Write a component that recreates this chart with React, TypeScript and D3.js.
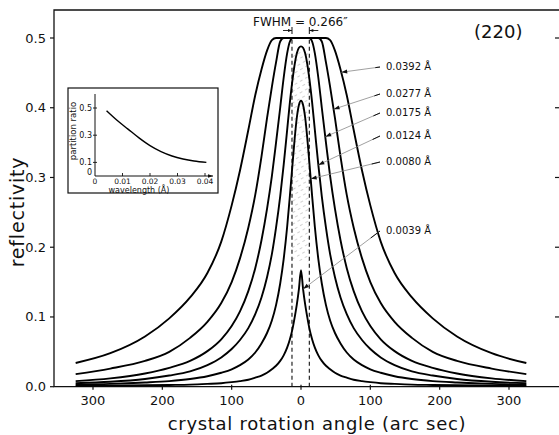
import * as d3 from "d3";

// rotation angle grid (arc sec)
const angles = [-325, -275, -225, -190, -160, -135, -115, -100, -88, -76, -66, -57, -49, -42, -36, -30, -25, -20, -16, -12, -9, -6, -3, 0, 3, 6, 9, 12, 16, 20, 25, 30, 36, 42, 49, 57, 66, 76, 88, 100, 115, 135, 160, 190, 225, 275, 325];

// reflectivity, left to right
const r0392 = [0.034, 0.048, 0.072, 0.098, 0.128, 0.163, 0.208, 0.26, 0.31, 0.368, 0.418, 0.455, 0.482, 0.497, 0.5, 0.5, 0.5, 0.5, 0.5, 0.5, 0.5, 0.5, 0.5, 0.5, 0.5, 0.5, 0.5, 0.5, 0.5, 0.5, 0.5, 0.5, 0.5, 0.497, 0.482, 0.455, 0.418, 0.368, 0.31, 0.26, 0.208, 0.163, 0.128, 0.098, 0.072, 0.048, 0.034];
const r0277 = [0.018, 0.026, 0.037, 0.05, 0.07, 0.093, 0.12, 0.15, 0.184, 0.228, 0.275, 0.33, 0.385, 0.43, 0.465, 0.495, 0.5, 0.5, 0.5, 0.5, 0.5, 0.5, 0.5, 0.5, 0.5, 0.5, 0.5, 0.5, 0.5, 0.5, 0.5, 0.495, 0.465, 0.43, 0.385, 0.33, 0.275, 0.228, 0.184, 0.15, 0.12, 0.093, 0.07, 0.05, 0.037, 0.026, 0.018];
const r0175 = [0.008, 0.012, 0.019, 0.027, 0.037, 0.051, 0.068, 0.087, 0.108, 0.137, 0.17, 0.21, 0.255, 0.302, 0.35, 0.4, 0.443, 0.478, 0.495, 0.5, 0.5, 0.5, 0.5, 0.5, 0.5, 0.5, 0.5, 0.5, 0.495, 0.478, 0.443, 0.4, 0.35, 0.302, 0.255, 0.21, 0.17, 0.137, 0.108, 0.087, 0.068, 0.051, 0.037, 0.027, 0.019, 0.012, 0.008];
const r0124 = [0.005, 0.007, 0.011, 0.016, 0.022, 0.031, 0.042, 0.054, 0.067, 0.084, 0.104, 0.128, 0.157, 0.19, 0.228, 0.273, 0.318, 0.368, 0.408, 0.442, 0.463, 0.478, 0.486, 0.488, 0.486, 0.478, 0.463, 0.442, 0.408, 0.368, 0.318, 0.273, 0.228, 0.19, 0.157, 0.128, 0.104, 0.084, 0.067, 0.054, 0.042, 0.031, 0.022, 0.016, 0.011, 0.007, 0.005];
const r0080 = [0.003, 0.004, 0.006, 0.008, 0.011, 0.015, 0.02, 0.025, 0.031, 0.039, 0.049, 0.062, 0.077, 0.095, 0.117, 0.148, 0.183, 0.229, 0.274, 0.322, 0.357, 0.386, 0.404, 0.41, 0.404, 0.386, 0.357, 0.322, 0.274, 0.229, 0.183, 0.148, 0.117, 0.095, 0.077, 0.062, 0.049, 0.039, 0.031, 0.025, 0.02, 0.015, 0.011, 0.008, 0.006, 0.004, 0.003];
const r0039 = [0.001, 0.0015, 0.002, 0.0025, 0.003, 0.004, 0.005, 0.0065, 0.008, 0.01, 0.013, 0.016, 0.02, 0.025, 0.03, 0.037, 0.045, 0.056, 0.068, 0.084, 0.1, 0.118, 0.14, 0.167, 0.14, 0.118, 0.1, 0.084, 0.068, 0.056, 0.045, 0.037, 0.03, 0.025, 0.02, 0.016, 0.013, 0.01, 0.008, 0.0065, 0.005, 0.004, 0.003, 0.0025, 0.002, 0.0015, 0.001];

const wavelengths = ["0.0392", "0.0277", "0.0175", "0.0124", "0.0080", "0.0039"];
const curves = [r0392, r0277, r0175, r0124, r0080, r0039];

// inset: partition ratio vs wavelength
const insetLambda = [0.0042, 0.008, 0.012, 0.016, 0.02, 0.024, 0.028, 0.032, 0.036, 0.0405];
const insetRatio = [0.48, 0.41, 0.345, 0.28, 0.223, 0.179, 0.147, 0.125, 0.11, 0.1];

const xTicks = [-300, -200, -100, 0, 100, 200, 300];
const yTicks = [0, 0.1, 0.2, 0.3, 0.4, 0.5];
const insetXTicks = [0, 0.01, 0.02, 0.03, 0.04];
const insetYTicks = [0.1, 0.3, 0.5];
const fwhmEdges = [-13, 12];

const FONT = "DejaVu Sans, sans-serif";

function valueAt(vals: number[], a: number) {
  const i = d3.bisectLeft(angles, a);
  if (i <= 0) return vals[0];
  const t = (a - angles[i - 1]) / (angles[i] - angles[i - 1]);
  return vals[i - 1] + t * (vals[i] - vals[i - 1]);
}

function arrowHead(x1: number, y1: number, x2: number, y2: number, len = 6, half = 2) {
  const dx = x2 - x1, dy = y2 - y1;
  const d = Math.hypot(dx, dy);
  const ux = dx / d, uy = dy / d;
  const bx = x2 - ux * len, by = y2 - uy * len;
  return `M${x2},${y2}L${bx - uy * half},${by + ux * half}L${bx + uy * half},${by - ux * half}Z`;
}

export default function App() {
  const x = d3.scaleLinear().domain([-300, 300]).range([93, 509]);
  const y = d3.scaleLinear().domain([0, 0.5]).range([386.7, 38]);

  const line = d3
    .line<number>()
    .x((_, i) => x(angles[i]))
    .y((d) => y(d))
    .curve(d3.curveMonotoneX);

  // label placement (pixel row of each label, arrow target angle)
  const labelX = 386;
  const labelY = [66, 93, 112, 135, 161, 230];
  const targetAngle = [58, 47, 35, 25, 14, 3];

  const ix = d3.scaleLinear().domain([0, 0.04]).range([95, 205]);
  const iy = d3.scaleLinear().domain([0, 0.5]).range([176, 108]);
  const insetLine = d3
    .line<number>()
    .x((_, i) => ix(insetLambda[i]))
    .y((d) => iy(d))
    .curve(d3.curveMonotoneX);

  const x0 = 54, xr = 559, yb = y(0), yt = 10;

  return (
    <>
      <style>{`body{margin:0;background:#fff}`}</style>
      <svg width={559} height={435} style={{ display: "block", background: "#fff" }}>
        <defs>
          <pattern id="hatch" width="5" height="6" patternUnits="userSpaceOnUse" patternTransform="rotate(60)">
            <line x1="0" y1="0" x2="0" y2="3" stroke="#666" strokeWidth="0.8" />
          </pattern>
        </defs>

        {/* frame */}
        <path d={`M${xr},${yt}H${x0}V${yb}H${xr}`} fill="none" stroke="#111" strokeWidth={1.3} />

        {/* hatched FWHM band */}
        <rect x={x(fwhmEdges[0])} y={y(0.48)} width={x(fwhmEdges[1]) - x(fwhmEdges[0])} height={y(0.18) - y(0.48)} fill="url(#hatch)" opacity={0.75} />

        {/* y ticks */}
        {yTicks.map((t) => (
          <g key={t}>
            <line x1={x0 - 4} x2={x0} y1={y(t)} y2={y(t)} stroke="#111" strokeWidth={1.2} />
            {t > 0 && <line x1={xr - 4} x2={xr} y1={y(t)} y2={y(t)} stroke="#111" strokeWidth={1.2} />}
            <text x={46} y={y(t) + 4.5} textAnchor="end" fontFamily={FONT} fontSize={13} fill="#111">
              {t.toFixed(1)}
            </text>
          </g>
        ))}

        {/* x ticks */}
        {xTicks.map((t) => (
          <g key={t}>
            <line x1={x(t)} x2={x(t)} y1={yb - 2} y2={yb + 3} stroke="#111" strokeWidth={1.2} />
            <text x={x(t)} y={405} textAnchor="middle" fontFamily={FONT} fontSize={13} fill="#111">
              {Math.abs(t)}
            </text>
          </g>
        ))}

        {/* dashed FWHM lines */}
        {fwhmEdges.map((a) => (
          <line key={a} x1={x(a)} x2={x(a)} y1={yb} y2={y(0.5)} stroke="#111" strokeWidth={1.1} strokeDasharray="4,3" />
        ))}

        {/* reflectivity curves */}
        {curves.map((c, i) => (
          <path key={wavelengths[i]} d={line(c) ?? ""} fill="none" stroke="#000" strokeWidth={1.9} />
        ))}

        {/* FWHM marker */}
        <line x1={x(fwhmEdges[0])} x2={x(fwhmEdges[0])} y1={27} y2={34} stroke="#111" strokeWidth={1} />
        <line x1={x(fwhmEdges[1])} x2={x(fwhmEdges[1])} y1={27} y2={34} stroke="#111" strokeWidth={1} />
        <line x1={x(fwhmEdges[0]) - 9} x2={x(fwhmEdges[0])} y1={30.5} y2={30.5} stroke="#111" strokeWidth={0.9} />
        <path d={arrowHead(x(fwhmEdges[0]) - 9, 30.5, x(fwhmEdges[0]), 30.5, 4, 1.6)} fill="#111" />
        <line x1={x(fwhmEdges[1]) + 9} x2={x(fwhmEdges[1])} y1={30.5} y2={30.5} stroke="#111" strokeWidth={0.9} />
        <path d={arrowHead(x(fwhmEdges[1]) + 9, 30.5, x(fwhmEdges[1]), 30.5, 4, 1.6)} fill="#111" />
        <text x={253} y={26} fontFamily={FONT} fontSize={12} fill="#111">
          FWHM = 0.266″
        </text>

        <text x={474} y={38} fontFamily={FONT} fontSize={18} fill="#111">
          (220)
        </text>

        {/* wavelength labels with leaders */}
        {wavelengths.map((w, i) => {
          const tx = x(targetAngle[i]);
          const ty = y(valueAt(curves[i], targetAngle[i]));
          const sx = labelX - 6;
          const sy = labelY[i] + 1;
          return (
            <g key={w}>
              <line x1={sx} y1={sy} x2={tx} y2={ty} stroke="#888" strokeWidth={0.8} />
              <line x1={sx} y1={sy} x2={sx - (sx - tx) * 0.12} y2={sy - (sy - ty) * 0.12} stroke="#111" strokeWidth={1} />
              <path d={arrowHead(sx, sy, tx, ty)} fill="#111" />
              <text x={labelX} y={labelY[i] + 3.5} fontFamily={FONT} fontSize={10} fill="#111">
                {w} Å
              </text>
            </g>
          );
        })}

        {/* axis titles */}
        <text transform="translate(24,212) rotate(-90)" textAnchor="middle" fontFamily={FONT} fontSize={19} letterSpacing={0.8} fill="#111">
          reflectivity
        </text>
        <text x={317} y={430} textAnchor="middle" fontFamily={FONT} fontSize={18} letterSpacing={0.7} fill="#111">
          crystal rotation angle (arc sec)
        </text>

        {/* inset */}
        <g>
          <rect x={68} y={88} width={150} height={105} fill="#fff" stroke="#111" strokeWidth={1.2} />
          <line x1={ix(0)} x2={ix(0)} y1={94} y2={iy(0)} stroke="#111" strokeWidth={1} />
          <line x1={ix(0)} x2={213} y1={iy(0)} y2={iy(0)} stroke="#111" strokeWidth={1} />
          <path d={arrowHead(ix(0.04), iy(0), 213, iy(0), 5, 1.8)} fill="#111" />
          {insetXTicks.map((t) => (
            <g key={t}>
              {t > 0 && <line x1={ix(t)} x2={ix(t)} y1={iy(0) - 3} y2={iy(0)} stroke="#111" strokeWidth={0.9} />}
              <text x={ix(t)} y={183.5} textAnchor="middle" fontFamily={FONT} fontSize={7.5} fill="#111">
                {t === 0 ? "0" : t.toFixed(2)}
              </text>
            </g>
          ))}
          {insetYTicks.map((t) => (
            <g key={t}>
              <line x1={ix(0) - 2} x2={ix(0) + 2} y1={iy(t)} y2={iy(t)} stroke="#111" strokeWidth={0.9} />
              <text x={92} y={iy(t) + 3} textAnchor="end" fontFamily={FONT} fontSize={8} fill="#111">
                {t.toFixed(1)}
              </text>
            </g>
          ))}
          <text x={92} y={175} textAnchor="end" fontFamily={FONT} fontSize={8} fill="#111">
            0
          </text>
          <path d={insetLine(insetRatio) ?? ""} fill="none" stroke="#000" strokeWidth={1.4} />
          <text transform="translate(76,131) rotate(-90)" textAnchor="middle" fontFamily={FONT} fontSize={8.5} fill="#111">
            partition ratio
          </text>
          <text x={139} y={192.5} textAnchor="middle" fontFamily={FONT} fontSize={8} fill="#111">
            wavelength (Å)
          </text>
        </g>
      </svg>
    </>
  );
}
